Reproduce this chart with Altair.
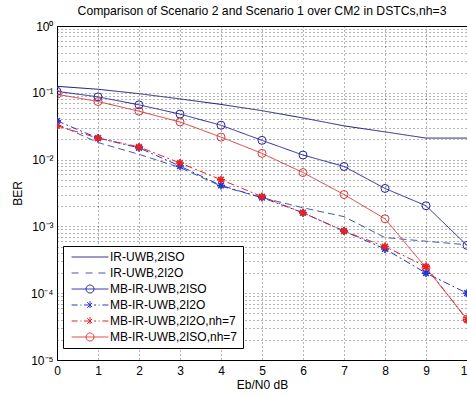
import altair as alt
import pandas as pd

# ---------------- data ----------------
x_vals = [0, 1, 2, 3, 4, 5, 6, 7, 8, 9, 10]
series_names = [
    "IR-UWB,2ISO",
    "IR-UWB,2I2O",
    "MB-IR-UWB,2ISO",
    "MB-IR-UWB,2I2O",
    "MB-IR-UWB,2I2O,nh=7",
    "MB-IR-UWB,2ISO,nh=7",
]
ir_2iso = [0.125, 0.113, 0.097, 0.081, 0.067, 0.054, 0.042, 0.032, 0.026, 0.021, 0.021]
ir_2i2o = [0.034, 0.018, 0.012, 0.0076, 0.0040, 0.0027, 0.0019, 0.0014, 0.00068, 0.00060, 0.00053]
mb_2iso = [0.105, 0.087, 0.066, 0.048, 0.0327, 0.0194, 0.0117, 0.0079, 0.0037, 0.00204, 0.00052]
mb_2i2o = [0.038, 0.021, 0.015, 0.0080, 0.0041, 0.0027, 0.0016, 0.00085, 0.00046, 0.00020, 0.00010]
mb_2i2o_nh7 = [0.032, 0.021, 0.0155, 0.0089, 0.0050, 0.0028, 0.0016, 0.00085, 0.00050, 0.00025, 0.000040]
mb_2iso_nh7 = [0.095, 0.074, 0.053, 0.0366, 0.0217, 0.0124, 0.0064, 0.0030, 0.0013, 0.00024, 0.000041]
series_values = [ir_2iso, ir_2i2o, mb_2iso, mb_2i2o, mb_2i2o_nh7, mb_2iso_nh7]
series_marker = ["none", "none", "circle", "star", "star", "circle"]

y_major_values = [1, 0.1, 0.01, 0.001, 0.0001, 0.00001]
y_major_labels = ["10⁰", "10⁻¹", "10⁻²", "10⁻³", "10⁻⁴", "10⁻⁵"]

title_text = "Comparison of Scenario 2 and Scenario 1 over CM2 in DSTCs,nh=3"
x_title = "Eb/N0 dB"
y_title = "BER"

# ---------------- styles ----------------
colors = ["#1c1c7a", "#4a58a8", "#2424a0", "#2236d0", "#e42222", "#d83a3a"]
dashes = [[1, 0], [7, 4], [1, 0], [7, 3, 2, 3], [7, 3, 2, 3], [1, 0]]
STAR = "M-1,0L1,0M0,-1L0,1M-0.7,-0.7L0.7,0.7M-0.7,0.7L0.7,-0.7"
LEG_SOLID = "M-4.6,0L4.6,0"
LEG_DASH = "M-4.6,0L-2.1,0M-1.1,0L1.1,0M2.1,0L4.6,0"
LEG_CIRC = "M-4.6,0L4.6,0M1,0A1,1,0,1,1,-1,0A1,1,0,1,1,1,0"
LEG_STAR = ("M-4.6,0L-3.1,0M-2.4,0L-2.15,0M-1.5,0L1.5,0M2.15,0L2.4,0M3.1,0L4.6,0"
            "M0,-1L0,1M-0.7,-0.7L0.7,0.7M-0.7,0.7L0.7,-0.7")
legend_paths = [LEG_SOLID, LEG_DASH, LEG_CIRC, LEG_STAR, LEG_STAR, LEG_CIRC]

FONT = "Liberation Sans"

rows = []
for name, vals, mk in zip(series_names, series_values, series_marker):
    for xv, yv in zip(x_vals, vals):
        rows.append({"series": name, "x": xv, "ber": yv, "marker": mk})
df = pd.DataFrame(rows)

# y grid values: every decade and minor 2..9
y_grid_values = []
for k in range(0, 5):
    base_v = y_major_values[k + 1]
    y_grid_values.append(base_v)
    for m in range(2, 10):
        y_grid_values.append(round(m * base_v, 8))
y_grid_values.append(1)

label_expr = " : ".join(
    f"datum.value == {v} ? '{l}'" for v, l in zip(y_major_values, y_major_labels)
) + " : ''"

x_enc = alt.X(
    "x:Q",
    scale=alt.Scale(domain=[0, 10], nice=False, zero=False),
    axis=alt.Axis(
        values=x_vals, title=x_title, grid=True, ticks=False,
        labelPadding=5, titlePadding=3, labelFontSize=12, titleFontSize=12,
        labelFlush=False,
    ),
)
y_enc = alt.Y(
    "ber:Q",
    scale=alt.Scale(type="log", domain=[1e-5, 1], nice=False),
    axis=alt.Axis(
        values=y_grid_values, labelExpr=label_expr, title=y_title, grid=True,
        ticks=False, labelPadding=4, titlePadding=6, labelFontSize=12,
        titleFontSize=12, labelBaseline="middle",
    ),
)
color_scale = alt.Scale(domain=series_names, range=colors)

base = alt.Chart(df)

leg_props = dict(
    title=None, orient="none", legendX=6, legendY=220,
    strokeColor="black", fillColor="white", padding=5,
    labelFont=FONT, labelFontSize=12, labelColor="black",
    symbolSize=64, symbolOffset=16, labelOffset=14, symbolStrokeWidth=1,
    symbolOpacity=1, rowPadding=4, cornerRadius=0,
)

# legend-only layer (no rows drawn); placed first so its legend is the one kept
legend_layer = base.transform_filter("datum.x < 0").mark_point(
    filled=False, opacity=1
).encode(
    x=x_enc,
    y=y_enc,
    color=alt.Color("series:N", scale=color_scale, legend=alt.Legend(**leg_props)),
    shape=alt.Shape(
        "series:N",
        scale=alt.Scale(domain=series_names, range=legend_paths),
        legend=alt.Legend(**leg_props),
    ),
)

lines = base.mark_line(strokeWidth=1, clip=True).encode(
    x="x:Q",
    y="ber:Q",
    color=alt.Color("series:N", scale=color_scale, legend=None),
    strokeDash=alt.StrokeDash(
        "series:N", scale=alt.Scale(domain=series_names, range=dashes), legend=None
    ),
    order="x:Q",
)

circles = base.transform_filter("datum.marker == 'circle'").mark_point(
    shape="circle", filled=False, size=64, strokeWidth=1, opacity=1, clip=True
).encode(
    x="x:Q", y="ber:Q",
    color=alt.Color("series:N", scale=color_scale, legend=None),
)

stars = base.transform_filter("datum.marker == 'star'").mark_point(
    shape=STAR, filled=False, size=64, strokeWidth=1.6, opacity=1, clip=True
).encode(
    x="x:Q", y="ber:Q",
    color=alt.Color("series:N", scale=color_scale, legend=None),
)

chart = (
    alt.layer(legend_layer, lines, circles, stars)
    .properties(
        width=410,
        height=334,
        autosize=alt.AutoSizeParams(type="none"),
        padding={"left": 57, "top": 26, "right": 0, "bottom": 37},
        title=alt.TitleParams(
            title_text, fontSize=12.2, fontWeight="normal", font=FONT,
            anchor="middle", offset=3, color="black",
        ),
        background="white",
    )
    .configure_view(stroke="black", strokeWidth=1)
    .configure_axis(
        domainColor="black", domainWidth=1,
        gridColor="#000000", gridOpacity=0.6, gridDash=[1, 3], gridWidth=1,
        labelColor="black", titleColor="black", labelFont=FONT, titleFont=FONT,
        titleFontWeight="normal",
    )
)

chart.save("out.html", embed_options={"renderer": "svg", "actions": False})
